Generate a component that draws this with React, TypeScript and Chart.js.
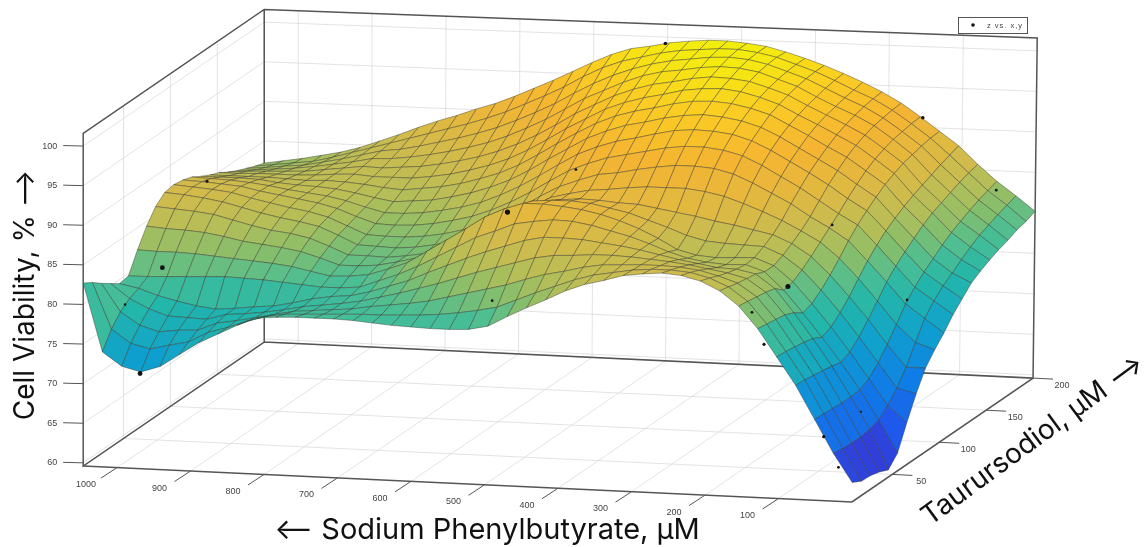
import React, { useEffect, useRef } from "react";
import { Chart, registerables } from "chart.js";

Chart.register(...registerables);

const sodiumDose = [0,26.2,52.3,78.5,104.6,130.8,156.9,183.1,209.2,235.4,261.5,287.7,313.8,340,366.1,392.3,418.4,444.6,470.7,496.9,523,549.2,575.3,601.5,627.6,653.8,679.9,706.1,732.2,758.4,784.5,810.7,836.8,863,889.1,915.3,941.4,967.6,993.7,1019.9,1046];
const taurursodiolDose = [7,16.7,26.3,36,45.6,55.3,64.9,74.6,84.2,93.9,103.5,113.2,122.8,132.5,142.1,151.8,161.4,171.1,180.7,190.4,200];

// one line per sodium dose; values run along the taurursodiol doses
const viability = [
[62,61.4,61.3,61,60.5,61.8,64.8,67.6,70,71.5,72.8,74.3,75.5,76.7,77.4,78,78.5,78.9,79.4,79.7,80.2],
[65.5,65.3,65.2,65.2,65.4,65.8,66.8,68.2,70,72.3,74.5,75.9,77,77.8,78.7,79.5,80.2,80.7,81.2,81.6,82],
[69.6,69.5,69.4,69.3,69.3,69.4,70,71.2,72.7,74.4,76.2,77.5,78.6,79.5,80.4,81.2,81.8,82.4,82.9,83.3,83.7],
[73.7,73.6,73.4,73.2,73,72.7,73.2,74.3,75.7,77.2,78.8,80,81,81.9,82.8,83.5,84,84.5,85,85.4,85.7],
[77.1,77,76.8,76.6,76.3,75.7,76.2,77.2,78.4,79.9,81.3,82.5,83.5,84.3,85,85.6,86.1,86.6,87.1,87.5,87.9],
[80.5,80.3,80.1,79.9,79.4,78.6,79,79.9,81,82.3,83.7,84.9,85.9,86.8,87.6,88.2,88.7,89,89.3,89.5,89.6],
[83.2,83,82.8,82.6,82.3,81.3,81.6,82.3,83.2,84.2,85.2,86.2,87.3,88.3,89.2,89.9,90.4,90.8,91,91.2,91.3],
[85,84.7,84.4,84.2,84,83.5,83.5,84,84.7,85.5,86.5,87.7,88.9,89.9,90.8,91.5,92,92.4,92.6,92.8,92.9],
[86.1,85.7,85.2,84.8,84.5,84.3,84.4,85,85.7,86.7,88,89.2,90.3,91.2,92,92.7,93.2,93.6,93.9,94.1,94.2],
[86.7,86.3,85.8,85.2,84.6,84.2,84.3,85.1,86.2,87.7,89.2,90.5,91.6,92.5,93.3,93.9,94.3,94.6,94.9,95.1,95.3],
[86.9,86.5,86.1,85.6,85,84.4,84.2,85.2,86.7,88.6,90.4,91.8,92.9,93.8,94.5,95,95.4,95.7,96,96.2,96.3],
[86.7,86.5,86.2,85.9,85.4,84.8,84.4,85.4,87.1,89.4,91.4,92.9,94,94.9,95.7,96.2,96.6,96.9,97.1,97.2,97.2],
[86.4,86.3,86.2,86.1,85.9,85.5,85,86,87.6,89.9,92,93.5,94.7,95.6,96.4,97,97.4,97.7,97.9,98,98],
[85.7,85.9,86.1,86.3,86.4,86.4,86.3,86.9,88,90.2,92.2,93.8,95,96,96.9,97.6,98.1,98.5,98.7,98.8,98.7],
[85.1,85.5,86,86.4,86.8,87.2,87.4,87.7,88.4,90.2,92.2,93.8,95.1,96.2,97.1,97.9,98.4,98.9,99.2,99.3,99.3],
[84.2,84.8,85.6,86.4,87.1,87.8,88.3,88.5,88.8,90.2,91.9,93.5,94.9,96,97,97.8,98.5,99,99.4,99.6,99.6],
[83,83.9,85,86.2,87.4,88.4,89,89,88.9,90,91.5,93,94.4,95.6,96.6,97.5,98.2,98.8,99.3,99.6,99.8],
[81.9,83,84.5,86.1,87.5,88.8,89.5,89.5,89.1,89.7,91,92.5,93.8,95,96,96.9,97.7,98.4,99,99.4,99.8],
[80.7,82,83.8,85.7,87.5,88.9,89.8,89.7,89.2,89.5,90.7,92,93.3,94.5,95.5,96.4,97.3,98.1,98.7,99.2,99.6],
[79.4,81,83,85,87,88.6,90,89.7,89,89,89.9,91.2,92.5,93.7,94.8,95.7,96.6,97.5,98.2,98.8,99.3],
[78.9,80.5,82.4,84.3,86.2,88.2,90,89.5,88.6,88.4,89,90.2,91.5,92.7,93.8,94.8,95.7,96.6,97.5,98.2,98.8],
[78.8,80.1,81.8,83.6,85.4,87.2,89.2,88.6,87.4,87.1,87.7,88.8,90.1,91.3,92.5,93.5,94.5,95.5,96.6,97.6,98.4],
[78.8,79.8,81.2,82.8,84.5,86.3,88.1,87.4,86.2,85.7,86.2,87.3,88.6,89.9,91.1,92.2,93.3,94.4,95.5,96.7,97.6],
[78.9,79.6,80.6,82,83.5,85,86.5,86,84.8,84.4,84.9,86,87.2,88.4,89.6,90.7,91.8,93,94.2,95.5,96.5],
[79,79.5,80.2,81.3,82.5,83.7,85,84.5,83.5,83.3,83.9,84.9,86,87.1,88.2,89.3,90.4,91.6,92.8,94.1,95.3],
[79.2,79.4,79.9,80.6,81.4,82.4,83.5,83,82.4,82.5,83.1,84,85,86.1,87.1,88.1,89.2,90.4,91.6,92.9,94.1],
[79.4,79.4,79.6,80,80.6,81.3,82,81.8,81.6,81.9,82.5,83.4,84.3,85.3,86.3,87.2,88.2,89.3,90.5,91.8,93],
[79.5,79.3,79.2,79.4,79.8,80.4,81.1,81.2,81.2,81.5,82.1,82.9,83.8,84.7,85.6,86.5,87.4,88.4,89.5,90.7,91.9],
[79.5,79.2,79,79,79.2,79.5,80.3,80.7,80.9,81.3,81.9,82.6,83.4,84.2,85.1,85.9,86.8,87.7,88.7,89.8,90.9],
[79.5,79.1,78.8,78.7,79,79.3,80,80.5,81,81.4,81.9,82.5,83.2,84,84.8,85.5,86.3,87.1,88,89,90.1],
[79.4,79,78.6,78.4,78.6,79.3,79.9,80.5,81,81.5,82,82.6,83.2,83.8,84.5,85.2,85.9,86.6,87.4,88.3,89.2],
[79.2,78.6,78.1,77.9,78,79.5,80.4,81.3,82,82.6,83,83.4,83.8,84.2,84.7,85.2,85.7,86.2,86.8,87.6,88.4],
[78.2,77.9,77.6,77.5,77.5,79.7,80.9,82,82.9,83.6,84,84.3,84.5,84.7,85,85.2,85.5,85.9,86.3,86.9,87.5],
[77,77,77.1,77.2,77.3,79.9,81.2,82.4,83.4,84.1,84.6,84.9,85,85.1,85.2,85.4,85.6,85.8,86,86.2,86.5],
[75.8,76.3,76.7,77,77,80,81.4,82.7,83.7,84.5,85,85.3,85.3,85.3,85.3,85.3,85.3,85.3,85.4,85.5,85.6],
[74.2,75,75.7,76.3,76.8,80.1,81.6,83,84.2,85,85.5,85.7,85.6,85.4,85.2,85.1,85,84.9,84.8,84.8,84.7],
[72.6,74.5,75.6,76.4,77.1,80,81.8,83.5,84.8,85.6,86,86.1,86,85.6,85.3,85,84.7,84.5,84.3,84.1,84],
[71.8,73.9,75.3,76.5,77.6,79.9,82,83.9,85.4,86.2,86.6,86.6,86.3,85.9,85.4,85,84.6,84.2,83.8,83.5,83.5],
[72.4,74.5,76,77.3,78.2,79.8,82.1,84.1,85.7,86.6,86.9,86.8,86.5,86,85.4,85,84.5,84,83.6,83.2,83],
[74.1,76.2,77.6,78.5,79,79.7,82.1,84.2,85.9,86.9,87.1,87,86.6,86,85.4,84.9,84.4,83.8,83.3,82.9,82.6],
[82.7,82,81.1,80.3,79.5,79.7,82.2,84.4,86.1,87.1,87.3,87.1,86.7,86,85.4,84.9,84.2,83.6,83.1,82.6,82.2],
];

const sampleSodium = [968.7,1005.7,1006,1021.8,551,533,496.6,503,153.7,53,174,157.4,46,138.8,122,31,19,39.5];
const sampleTaurursodiol = [7,20,60,120,70,40,100,200,200,200,120,60,100,7,7,40,7,7];
const sampleViability = [71.6,79.1,80.5,86.5,88.4,79.8,91.5,99.2,91.2,82.6,84.2,81.4,77,82.5,78.6,68,63.8,67.5];
const sampleRadius = [2.4,1.2,2.4,1.5,2.6,1.4,1.4,1.8,1.8,1.4,1.4,2.5,1.3,1.4,1.6,1,1.4,1.6];

const sodiumTicks = [100,200,300,400,500,600,700,800,900,1000];
const taurursodiolTicks = [50,100,150,200];
const viabilityTicks = [60,65,70,75,80,85,90,95,100];

const SODIUM_MIN = 0, SODIUM_MAX = 1046, TAURO_MIN = 7, TAURO_MAX = 200, Z_FLOOR = 59.6, Z_TOP = 101.6;

function project(x: number, y: number, z: number) {
  const rightward = 1 - x / SODIUM_MAX;
  const rise = z - Z_FLOOR;
  return {
    x: 852 - 0.735 * x + 0.938 * (y - TAURO_MIN) + 0.1 * rise * rightward,
    y: 502 - 0.0344 * x - 0.642 * (y - TAURO_MIN) - rise * (7.92 + 0.18 * rightward),
  };
}

const parulaStops: [number, number, number, number][] = [
  [0, 72, 44, 150],[0.03, 70, 44, 170],[0.07, 50, 60, 215],[0.12, 30, 90, 235],[0.22, 15, 125, 230],[0.33, 15, 160, 205],
  [0.43, 35, 182, 170],[0.49, 75, 190, 148],[0.54, 130, 190, 110],[0.6, 180, 190, 88],[0.66, 208, 187, 76],[0.72, 228, 184, 62],
  [0.8, 245, 180, 50],[0.9, 250, 205, 35],[0.97, 245, 235, 15],[1, 240, 240, 10],
];
function parula(z: number) {
  const t = Math.max(0, Math.min(1, (z - 60) / 40.4));
  let i = 0;
  while (i < parulaStops.length - 2 && t > parulaStops[i + 1][0]) i++;
  const a = parulaStops[i], b = parulaStops[i + 1];
  const f = (t - a[0]) / (b[0] - a[0]);
  const c = (n: number) => Math.round(a[n] + (b[n] - a[n]) * f);
  return `rgb(${c(1)},${c(2)},${c(3)})`;
}

function segment(points: { x: number; y: number }[], color: string, width: number) {
  return { data: points, borderColor: color, borderWidth: width, pointRadius: 0, showLine: true, fill: false };
}

function buildDatasets() {
  const back: any[] = [];
  const grid = "rgba(215,215,215,0.7)";
  const frame = "#555555";
  for (const x of sodiumTicks) {
    back.push(segment([project(x, TAURO_MIN, Z_FLOOR), project(x, TAURO_MAX, Z_FLOOR), project(x, TAURO_MAX, Z_TOP)], grid, 1));
  }
  for (const y of taurursodiolTicks) {
    back.push(segment([project(SODIUM_MIN, y, Z_FLOOR), project(SODIUM_MAX, y, Z_FLOOR), project(SODIUM_MAX, y, Z_TOP)], grid, 1));
  }
  for (const z of viabilityTicks) {
    back.push(segment([project(SODIUM_MAX, TAURO_MIN, z), project(SODIUM_MAX, TAURO_MAX, z), project(SODIUM_MIN, TAURO_MAX, z)], grid, 1));
  }
  back.push(segment([project(SODIUM_MAX, TAURO_MAX, Z_FLOOR), project(SODIUM_MIN, TAURO_MAX, Z_FLOOR), project(SODIUM_MIN, TAURO_MAX, Z_TOP), project(SODIUM_MAX, TAURO_MAX, Z_TOP), project(SODIUM_MAX, TAURO_MIN, Z_TOP), project(SODIUM_MAX, TAURO_MIN, Z_FLOOR), project(SODIUM_MAX, TAURO_MAX, Z_FLOOR), project(SODIUM_MAX, TAURO_MAX, Z_TOP)], frame, 1.5));
  back.push(segment([project(SODIUM_MAX, TAURO_MIN, Z_FLOOR), project(SODIUM_MIN, TAURO_MIN, Z_FLOOR), project(SODIUM_MIN, TAURO_MAX, Z_FLOOR)], frame, 1.7));
  for (const x of sodiumTicks) {
    const a = project(x, TAURO_MIN, Z_FLOOR);
    back.push(segment([a, { x: a.x - 16, y: a.y + 10.5 }], frame, 1));
  }
  for (const y of taurursodiolTicks) {
    const a = project(SODIUM_MIN, y, Z_FLOOR);
    back.push(segment([a, { x: a.x + 20, y: a.y + 1 }], frame, 1));
  }
  for (const z of viabilityTicks) {
    const a = project(SODIUM_MAX, TAURO_MIN, z);
    back.push(segment([{ x: a.x - 20, y: a.y - 0.5 }, a], frame, 1));
  }
  // far quads first, near quads last
  for (let i = taurursodiolDose.length - 2; i >= 0; i--) {
    for (let k = sodiumDose.length - 2; k >= 0; k--) {
      const corners = [[k, i], [k + 1, i], [k + 1, i + 1], [k, i + 1], [k, i]];
      const pts = corners.map(([c, r]) => project(sodiumDose[c], taurursodiolDose[r], viability[c][r]));
      const mean = (viability[k][i] + viability[k + 1][i] + viability[k][i + 1] + viability[k + 1][i + 1]) / 4;
      back.push({
        data: pts, showLine: true, pointRadius: 0, fill: "shape",
        backgroundColor: parula(mean), borderColor: "rgba(50,50,40,0.6)", borderWidth: 0.7, tension: 0,
      });
    }
  }
  back.push({
    data: sampleSodium.map((x, n) => project(x, sampleTaurursodiol[n], sampleViability[n])),
    showLine: false, pointRadius: sampleRadius, pointBackgroundColor: "#111", pointBorderWidth: 0,
  });
  return back.reverse(); // Chart.js paints the last dataset first
}

const labelsPlugin = {
  id: "axisText",
  afterDraw(chart: any) {
    const ctx = chart.ctx;
    const sx = chart.scales.x, sy = chart.scales.y;
    const px = (p: { x: number; y: number }) => ({ x: sx.getPixelForValue(p.x), y: sy.getPixelForValue(p.y) });
    ctx.save();
    ctx.fillStyle = "#444";
    ctx.font = "9px 'Liberation Sans'";
    ctx.textAlign = "center";
    ctx.textBaseline = "middle";
    for (const x of sodiumTicks) {
      const a = px(project(x, TAURO_MIN, Z_FLOOR));
      ctx.fillText(String(x), a.x - 31, a.y + 17);
    }
    for (const y of taurursodiolTicks) {
      const a = px(project(SODIUM_MIN, y, Z_FLOOR));
      ctx.fillText(String(y), a.x + 29, a.y + 7);
    }
    ctx.textAlign = "right";
    for (const z of viabilityTicks) {
      const a = px(project(SODIUM_MAX, TAURO_MIN, z));
      ctx.fillText(String(z), a.x - 26, a.y);
    }
    // legend
    ctx.strokeStyle = "#555";
    ctx.lineWidth = 1;
    ctx.strokeRect(958.5, 17.5, 69, 16);
    ctx.fillStyle = "#111";
    ctx.beginPath();
    ctx.arc(973, 25, 1.8, 0, Math.PI * 2);
    ctx.fill();
    ctx.fillStyle = "#444";
    ctx.textAlign = "left";
    ctx.font = "7.5px 'Liberation Sans'";
    (ctx as any).letterSpacing = "1px";
    ctx.fillText("z vs. x,y", 987, 25.5);
    (ctx as any).letterSpacing = "0px";
    // titles
    ctx.fillStyle = "#111";
    ctx.font = "29px Inter";
    ctx.textAlign = "center";
    ctx.fillText("\u27F5 Sodium Phenylbutyrate, \u00b5M", 487, 530);
    ctx.font = "28px Inter";
    ctx.save();
    ctx.translate(26, 295);
    ctx.rotate(-Math.PI / 2);
    ctx.fillText("Cell Viability, % \u27F6", 0, 0);
    ctx.restore();
    ctx.save();
    ctx.translate(1033, 440);
    ctx.rotate(-0.634);
    ctx.fillText("Taurursodiol, \u00b5M \u27F6", 0, 0);
    ctx.restore();
    ctx.restore();
  },
};

export default function App() {
  const ref = useRef<HTMLCanvasElement>(null);
  useEffect(() => {
    const chart = new Chart(ref.current as HTMLCanvasElement, {
      type: "scatter",
      data: { datasets: buildDatasets() },
      options: {
        animation: false,
        responsive: false,
        events: [],
        layout: { padding: 0, autoPadding: false },
        scales: {
          x: { type: "linear", min: 0, max: 1145, display: false },
          y: { type: "linear", min: 0, max: 547, reverse: true, display: false },
        },
        plugins: { legend: { display: false }, tooltip: { enabled: false }, filler: { drawTime: "beforeDatasetDraw" } },
      } as any,
      plugins: [labelsPlugin],
    });
    return () => chart.destroy();
  }, []);
  return <canvas ref={ref} width={1145} height={547} style={{ position: "fixed", left: 0, top: 0, display: "block", filter: "blur(0.4px)" }} />;
}
